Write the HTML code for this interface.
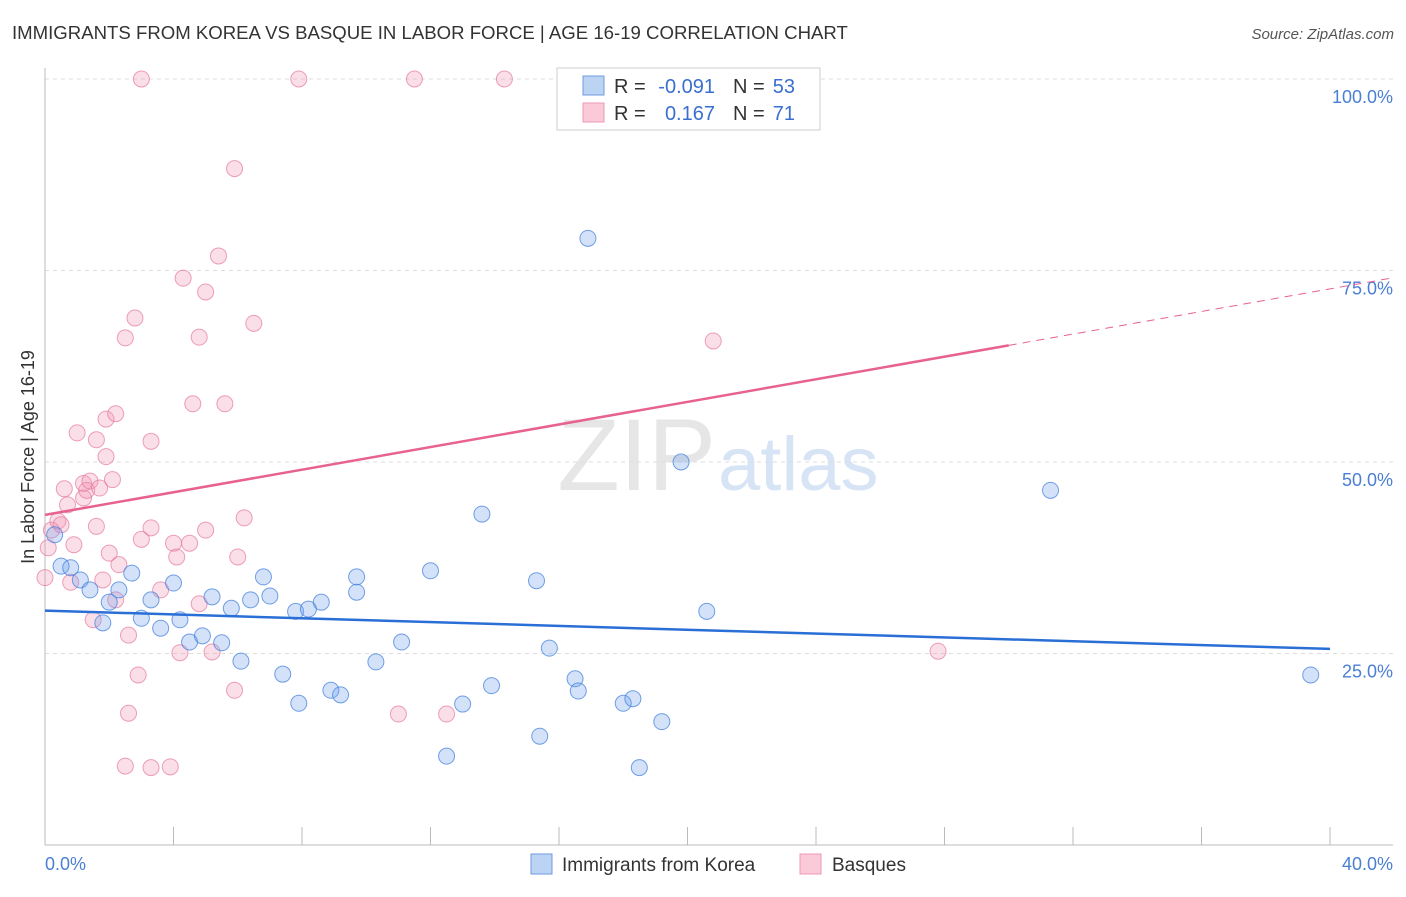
<!DOCTYPE html>
<html><head><meta charset="utf-8"><style>
body{margin:0;background:#fff;font-family:"Liberation Sans",sans-serif}
svg text{font-family:"Liberation Sans",sans-serif}
</style></head><body>
<svg id="chart" width="1406" height="892" viewBox="0 0 1406 892" xmlns="http://www.w3.org/2000/svg">
<text x="12" y="39" font-size="18.6" fill="#333">IMMIGRANTS FROM KOREA VS BASQUE IN LABOR FORCE | AGE 16-19 CORRELATION CHART</text>
<text x="1394" y="39" font-size="15" fill="#555" text-anchor="end" font-style="italic">Source: ZipAtlas.com</text>
<text x="716" y="490" font-size="102" fill="#e6e6e6" text-anchor="end" font-family="Liberation Serif">ZIP</text>
<text x="718" y="490" font-size="76" fill="#d6e4f5">atlas</text>
<g id="grid"></g>
<g id="axes"></g>
<g id="marks"></g>
<text x="0" y="0" transform="translate(34,457) rotate(-90)" font-size="18" fill="#333" text-anchor="middle">In Labor Force | Age 16-19</text>
<text x="45" y="870" font-size="18" fill="#4a7fd4">0.0%</text>
<text x="1393" y="870" font-size="18" fill="#4a7fd4" text-anchor="end">40.0%</text>
<g font-size="20">
<rect x="557" y="68" width="263" height="62" fill="#fff" stroke="#ccc"/>
<rect x="583" y="76" width="21" height="19" fill="#bcd4f4" stroke="#6c9be0"/>
<rect x="583" y="103" width="21" height="19" fill="#fbcad8" stroke="#ee9ab5"/>
<text x="614" y="93" fill="#333">R =</text>
<text x="715" y="93" fill="#3a6fd0" text-anchor="end">-0.091</text>
<text x="733" y="93" fill="#333">N =</text>
<text x="795" y="93" fill="#3a6fd0" text-anchor="end">53</text>
<text x="614" y="120" fill="#333">R =</text>
<text x="715" y="120" fill="#3a6fd0" text-anchor="end">0.167</text>
<text x="733" y="120" fill="#333">N =</text>
<text x="795" y="120" fill="#3a6fd0" text-anchor="end">71</text>
</g>
<g>
<rect x="531" y="854" width="21" height="20" fill="#bcd4f4" stroke="#6c9be0"/>
<text x="562" y="871" font-size="19" fill="#333">Immigrants from Korea</text>
<rect x="800" y="854" width="21" height="20" fill="#fbcad8" stroke="#ee9ab5"/>
<text x="832" y="871" font-size="19" fill="#333">Basques</text>
</g>
</svg>
<script>
const yTicks=[25,50,75,100];
const yTickLabels=["25.0%","50.0%","75.0%","100.0%"];
const xTicks=[0,4,8,12,16,20,24,28,32,36,40];
const koreaX=[0.3,0.5,0.8,1.1,1.4,1.8,2.0,2.3,2.7,3.0,3.3,3.6,4.0,4.2,4.5,4.9,5.2,5.5,5.8,6.1,6.4,6.8,7.0,7.4,7.8,7.9,8.2,8.6,8.9,9.2,9.7,9.7,10.3,11.1,12.0,12.5,13.0,13.6,13.9,15.3,15.4,15.7,16.5,16.6,16.9,18.0,18.3,18.5,19.2,19.8,20.6,31.3,39.4];
const koreaY=[40.5,36.4,36.2,34.6,33.3,29.0,31.7,33.3,35.5,29.6,32.0,28.3,34.2,29.4,26.5,27.3,32.4,26.4,30.9,24.0,32.0,35.0,32.5,22.3,30.5,18.5,30.8,31.7,20.2,19.6,33.0,35.0,23.9,26.5,35.8,11.6,18.4,43.2,20.8,34.5,14.2,25.7,21.7,20.1,79.2,18.5,19.1,10.1,16.1,50.0,30.5,46.3,22.2];
const basqueX=[0,0.1,0.2,0.4,0.5,0.6,0.7,0.8,0.9,1.0,1.2,1.2,1.3,1.4,1.5,1.6,1.6,1.7,1.8,1.9,1.9,2.0,2.1,2.2,2.2,2.3,2.5,2.5,2.6,2.8,2.9,3.0,3.0,2.6,3.3,3.3,3.3,3.6,3.9,4.0,4.1,4.2,4.3,4.5,4.8,4.8,4.6,5.0,5.0,5.2,5.4,5.6,5.9,5.9,6.0,6.2,6.5,7.9,11.0,11.5,12.5,14.3,20.8,27.8];
const basqueY=[34.9,38.8,41.1,42.3,41.8,46.5,44.4,34.3,39.2,53.8,47.2,45.3,46.3,47.5,29.4,41.6,52.9,46.6,34.6,50.7,55.6,38.1,47.7,56.3,32.0,36.6,10.3,66.2,27.4,68.8,22.2,39.9,100,17.2,52.7,41.4,10.1,33.3,10.2,39.4,37.6,25.1,74.0,39.4,31.5,66.3,57.6,72.2,41.1,25.2,76.9,57.6,88.3,20.2,37.6,42.7,68.1,100,17.1,100,17.1,100,65.8,25.3];
const koreaTrend=[30.6,25.6];
const basqueTrend=[43.1,72.6];
const X0=45,X1=1330,Y0=845,YTOP=79;
const sx=v=>X0+(X1-X0)*v/40;
const sy=v=>Y0-(Y0-YTOP)*v/100;
const NS="http://www.w3.org/2000/svg";
function mk(tag,attrs,parent){const e=document.createElementNS(NS,tag);for(const k in attrs)e.setAttribute(k,attrs[k]);document.getElementById(parent).appendChild(e);return e;}
yTicks.forEach((t,i)=>{
 const g=mk('line',{x1:X0,x2:1393,y1:sy(t),y2:sy(t),stroke:'#ddd','stroke-dasharray':'4,4'},'grid');
 
 
 const l=mk('text',{x:1393,y:sy(t)+24,'font-size':18,fill:'#4a7fd4','text-anchor':'end'},'grid');
 l.textContent=yTickLabels[i];
 
 
});
const ax=mk('line',{x1:X0,x2:X0,y1:68,y2:Y0,stroke:'#bbb'},'axes');


const bx=mk('line',{x1:X0,x2:1393,y1:Y0,y2:Y0,stroke:'#bbb'},'axes');


xTicks.forEach(t=>{
 const k=mk('line',{x1:sx(t),x2:sx(t),y1:827,y2:Y0,stroke:'#bbb'},'axes');
 
 
});
basqueX.forEach((x,i)=>{
 const c=mk('circle',{cx:sx(x),cy:sy(basqueY[i]),r:8,fill:'rgba(242,150,180,0.3)',stroke:'rgba(230,120,160,0.7)','stroke-width':1},'marks');
 
 
});
koreaX.forEach((x,i)=>{
 const c=mk('circle',{cx:sx(x),cy:sy(koreaY[i]),r:8,fill:'rgba(110,160,235,0.3)',stroke:'rgba(70,130,220,0.75)','stroke-width':1},'marks');
 
 
});
const kl=mk('line',{x1:sx(0),y1:sy(koreaTrend[0]),x2:sx(40),y2:sy(koreaTrend[1]),stroke:'#2a6fd6','stroke-width':2.5},'marks');


const bs=v=>basqueTrend[0]+(basqueTrend[1]-basqueTrend[0])*v/40;
const bl=mk('line',{x1:sx(0),y1:sy(bs(0)),x2:sx(30),y2:sy(bs(30)),stroke:'#e8628f','stroke-width':2.5},'marks');


const bd=mk('line',{x1:sx(30),y1:sy(bs(30)),x2:sx(42),y2:sy(bs(42)),stroke:'#e8628f','stroke-width':1,'stroke-dasharray':'8,6'},'marks');


</script>
</body></html>
